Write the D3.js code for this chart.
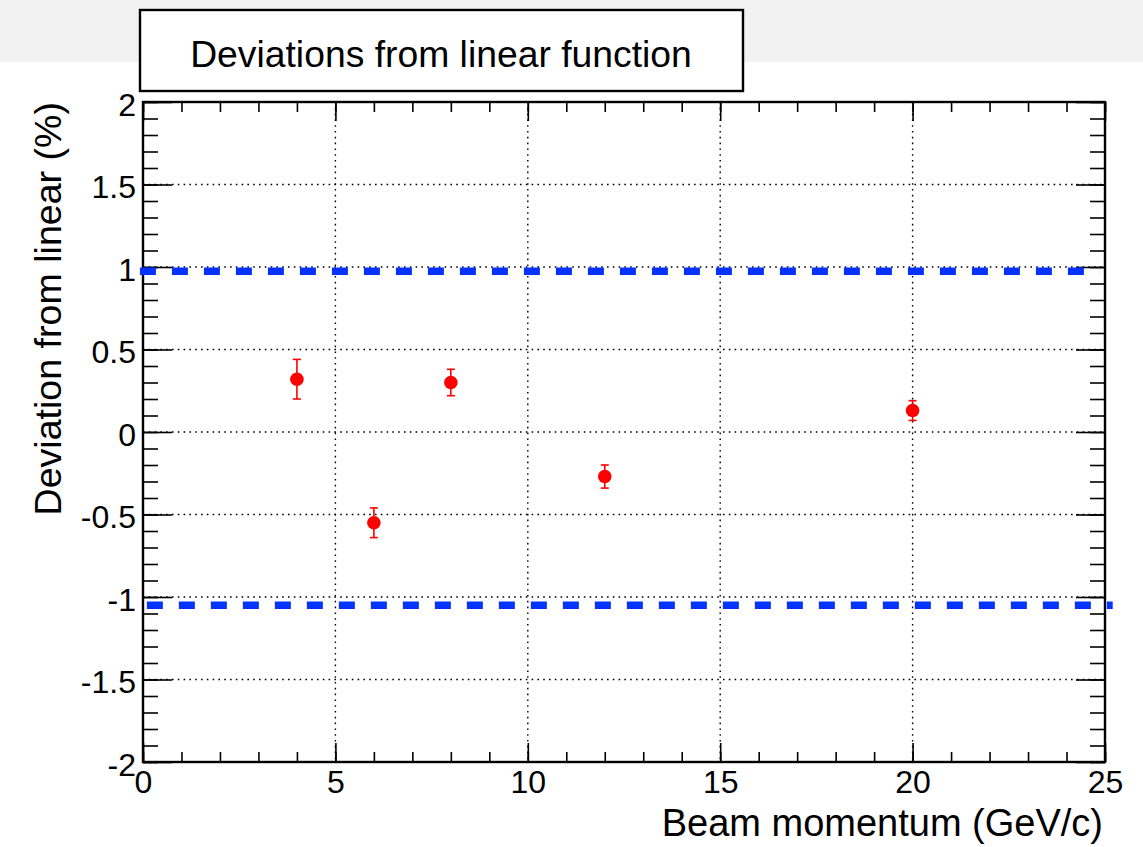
<!DOCTYPE html>
<html>
<head>
<meta charset="utf-8">
<script src="https://cdn.jsdelivr.net/npm/d3@7"></script>
<style>
  html, body { margin: 0; padding: 0; background: #fff; }
  svg { display: block; font-family: "Liberation Sans", Arial, Helvetica, sans-serif; }
</style>
</head>
<body>
<svg id="chart"></svg>
<script>
// measured points (beam momentum in GeV/c, deviation in %)
const momentum = [4, 6, 8, 12, 20];
const deviation = [0.32, -0.55, 0.30, -0.27, 0.13];
const devError = [0.12, 0.09, 0.08, 0.07, 0.06];

// the two blue dashed limit lines
const limitLevel = [0.975, -1.05];
const limitFrom = [-0.08, 0.1];
const limitTo = [24.87, 25.2];

const xMajor = [0, 5, 10, 15, 20, 25];
const xLabels = ["0", "5", "10", "15", "20", "25"];
const yMajor = [-2, -1.5, -1, -0.5, 0, 0.5, 1, 1.5, 2];
const yLabels = ["-2", "-1.5", "-1", "-0.5", "0", "0.5", "1", "1.5", "2"];

const titleText = "Deviations from linear function";
const xTitle = "Beam momentum (GeV/c)";
const yTitle = "Deviation from linear (%)";

const width = 1143, height = 847;
const margin = {left: 143, right: 38, top: 102, bottom: 85};

const svg = d3.select("#chart").attr("width", width).attr("height", height);

// light grey strip at the top of the page
svg.append("rect").attr("x", 0).attr("y", 0).attr("width", width).attr("height", 62)
    .attr("fill", "#f2f2f2");

const x = d3.scaleLinear().domain([0, 25]).range([margin.left, width - margin.right]);
const y = d3.scaleLinear().domain([-2, 2]).range([height - margin.bottom, margin.top]);

const x0 = x.range()[0], x1 = x.range()[1];
const y0 = y.range()[0], y1 = y.range()[1];

// dotted grid
const grid = svg.append("g").attr("stroke", "#000").attr("stroke-width", 1.4)
    .attr("stroke-dasharray", "1.6 4.2");
grid.selectAll("line.gx").data(xMajor.slice(1, -1)).join("line")
    .attr("class", "gx")
    .attr("x1", d => x(d)).attr("x2", d => x(d))
    .attr("y1", y1).attr("y2", y0);
grid.selectAll("line.gy").data(yMajor.slice(1, -1)).join("line")
    .attr("class", "gy")
    .attr("x1", x0).attr("x2", x1)
    .attr("y1", d => y(d)).attr("y2", d => y(d));

// minor ticks
const xMinor = d3.range(0, 25.001, 1);
const yMinor = d3.range(-2, 2.0001, 0.1);

function styleAxis(g) {
    g.select(".domain").remove();
    g.selectAll(".tick line").attr("stroke", "#000").attr("stroke-width", 1.6);
    g.selectAll("text").attr("fill", "#000").attr("font-size", 32)
        .attr("font-family", "Liberation Sans, Arial, Helvetica, sans-serif");
}

// bottom axis
svg.append("g").attr("transform", `translate(0,${y0})`)
    .call(d3.axisBottom(x).tickValues(xMinor).tickSize(-10).tickFormat(""))
    .call(styleAxis);
svg.append("g").attr("transform", `translate(0,${y0})`)
    .call(d3.axisBottom(x).tickValues(xMajor).tickSize(-19).tickPadding(8)
        .tickFormat((d, i) => xLabels[i]))
    .call(styleAxis);

// top axis
svg.append("g").attr("transform", `translate(0,${y1})`)
    .call(d3.axisTop(x).tickValues(xMinor).tickSize(-10).tickFormat(""))
    .call(styleAxis);
svg.append("g").attr("transform", `translate(0,${y1})`)
    .call(d3.axisTop(x).tickValues(xMajor).tickSize(-19).tickFormat(""))
    .call(styleAxis);

// left axis
svg.append("g").attr("transform", `translate(${x0},0)`)
    .call(d3.axisLeft(y).tickValues(yMinor).tickSize(-15).tickFormat(""))
    .call(styleAxis);
const yAxis = svg.append("g").attr("transform", `translate(${x0},0)`)
    .call(d3.axisLeft(y).tickValues(yMajor).tickSize(-29).tickPadding(7)
        .tickFormat((d, i) => yLabels[i]))
    .call(styleAxis);
yAxis.selectAll("text").attr("dy", "0.42em");

// right axis
svg.append("g").attr("transform", `translate(${x1},0)`)
    .call(d3.axisRight(y).tickValues(yMinor).tickSize(-15).tickFormat(""))
    .call(styleAxis);
svg.append("g").attr("transform", `translate(${x1},0)`)
    .call(d3.axisRight(y).tickValues(yMajor).tickSize(-29).tickFormat(""))
    .call(styleAxis);

// frame
svg.append("rect").attr("x", x0).attr("y", y1)
    .attr("width", x1 - x0).attr("height", y0 - y1)
    .attr("fill", "none").attr("stroke", "#000").attr("stroke-width", 2.4);

// blue dashed limits
svg.append("g").selectAll("line").data(limitLevel).join("line")
    .attr("x1", (d, i) => x(limitFrom[i])).attr("x2", (d, i) => x(limitTo[i]))
    .attr("y1", d => y(d)).attr("y2", d => y(d))
    .attr("stroke", "#0433ff").attr("stroke-width", 7.5)
    .attr("stroke-dasharray", "16 16");

// error bars and markers
const pts = momentum.map((m, i) => ({m, v: deviation[i], e: devError[i]}));
const eb = svg.append("g").attr("stroke", "#ff0000").attr("stroke-width", 1.6);
eb.selectAll("line.bar").data(pts).join("line").attr("class", "bar")
    .attr("x1", d => x(d.m)).attr("x2", d => x(d.m))
    .attr("y1", d => y(d.v + d.e)).attr("y2", d => y(d.v - d.e));
eb.selectAll("line.capTop").data(pts).join("line").attr("class", "capTop")
    .attr("x1", d => x(d.m) - 4).attr("x2", d => x(d.m) + 4)
    .attr("y1", d => y(d.v + d.e)).attr("y2", d => y(d.v + d.e));
eb.selectAll("line.capBot").data(pts).join("line").attr("class", "capBot")
    .attr("x1", d => x(d.m) - 4).attr("x2", d => x(d.m) + 4)
    .attr("y1", d => y(d.v - d.e)).attr("y2", d => y(d.v - d.e));
svg.append("g").selectAll("circle").data(pts).join("circle")
    .attr("cx", d => x(d.m)).attr("cy", d => y(d.v)).attr("r", 6.8)
    .attr("fill", "#ff0000");

// axis titles
svg.append("text").attr("x", x1 - 2).attr("y", 836)
    .attr("text-anchor", "end").attr("font-size", 38).attr("fill", "#000")
    .text(xTitle);
svg.append("text").attr("transform", `translate(61,${y1}) rotate(-90)`)
    .attr("text-anchor", "end").attr("font-size", 37.6).attr("fill", "#000")
    .text(yTitle);

// title box
svg.append("rect").attr("x", 140).attr("y", 10).attr("width", 603).attr("height", 81)
    .attr("fill", "#fff").attr("stroke", "#000").attr("stroke-width", 2.4);
svg.append("text").attr("x", 441).attr("y", 67)
    .attr("text-anchor", "middle").attr("font-size", 37.3).attr("fill", "#000")
    .text(titleText);
</script>
</body>
</html>
